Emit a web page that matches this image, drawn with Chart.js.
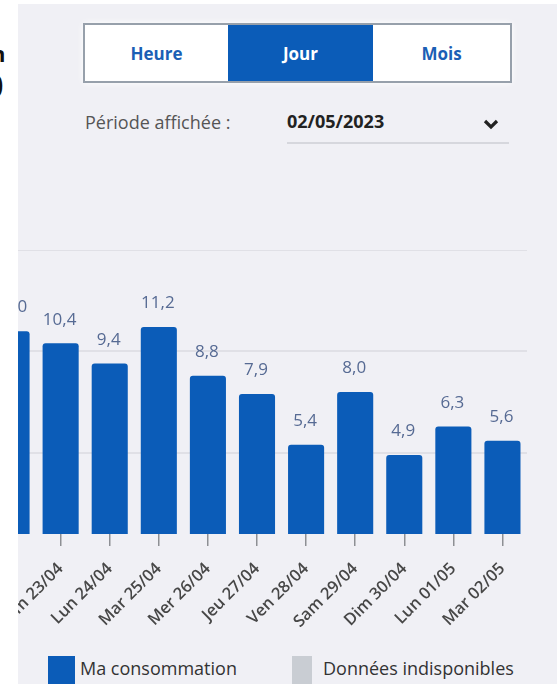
<!DOCTYPE html>
<html>
<head>
<meta charset="utf-8">
<script src="https://cdn.jsdelivr.net/npm/chart.js@4.4.0/dist/chart.umd.min.js"></script>
<style>
  body { margin: 0; width: 557px; height: 684px; overflow: hidden; position: relative; background: #fff; font-family: "Open Sans", sans-serif; }
  #panel { position: absolute; left: 18px; top: 4px; right: 0; bottom: 0; background: #f0f0f5; }
  #strip { position: absolute; left: 0; top: 0; width: 18px; height: 684px; background: #fff; overflow: hidden; z-index: 5; }
  #strip span { position: absolute; color: #111; font-weight: bold; }
  .seg { position: absolute; left: 83px; top: 23px; width: 425px; height: 56px; border: 2px solid #97a0ab; background: #fff; display: flex; box-shadow: 0 0 6px #fff; }
  .seg div { display: flex; align-items: center; justify-content: center; font-weight: bold; font-size: 17px; color: #1b5fb5; }
  .seg .on { background: #0b5cb8; color: #fff; }
  #periode { position: absolute; left: 85px; top: 110px; font-size: 18px; color: #555; }
  #date { position: absolute; left: 287px; top: 109px; font-size: 18px; font-weight: bold; color: #222; }
  #chev { position: absolute; left: 482px; top: 117px; }
  #under { position: absolute; left: 287px; top: 142px; width: 222px; height: 2px; background: #d6d7dd; }
  #wrap { position: absolute; left: -13px; top: 250px; width: 540px; height: 384px; }
  .box { position: absolute; top: 656px; height: 30px; }
  .leg { position: absolute; top: 656px; font-size: 18px; color: #333; }
</style>
</head>
<body>
<div id="panel"></div>
<div id="strip"><span style="left:-9px;top:38px;font-size:22px;">n</span><span style="left:-16px;top:62px;font-size:34px;">0</span></div>

<div class="seg">
  <div style="width:143px">Heure</div>
  <div class="on" style="width:145px">Jour</div>
  <div style="flex:1">Mois</div>
</div>
<div id="periode">Période affichée :</div>
<div id="date">02/05/2023</div>
<svg id="chev" width="18" height="14" viewBox="0 0 18 14"><polyline points="3,4 9,10 15,4" fill="none" stroke="#222" stroke-width="3.2"/></svg>
<div id="under"></div>

<div id="wrap"><canvas id="chart"></canvas></div>

<div class="box" style="left:48px;width:27px;background:#0b5cb8"></div>
<div class="leg" style="left:80px">Ma consommation</div>
<div class="box" style="left:292px;width:20px;background:#c9cdd3"></div>
<div class="leg" style="left:323px">Données indisponibles</div>

<script>
const jours = ['Sam 22/04', 'Dim 23/04', 'Lun 24/04', 'Mar 25/04', 'Mer 26/04', 'Jeu 27/04',
               'Ven 28/04', 'Sam 29/04', 'Dim 30/04', 'Lun 01/05', 'Mar 02/05'];
const conso = [11.0, 10.4, 9.4, 11.2, 8.8, 7.9, 5.4, 8.0, 4.9, 6.3, 5.6];
const yTicks = [5, 10, 15];

const bleu = '#0b5cb8';

// valeurs au-dessus des barres
const valeurs = {
    id: 'valeurs',
    afterDatasetsDraw(chart) {
        const ctx = chart.ctx;
        const meta = chart.getDatasetMeta(0);
        ctx.save();
        ctx.font = '17px "Open Sans"';
        ctx.fillStyle = '#566a93';
        ctx.textAlign = 'center';
        ctx.textBaseline = 'bottom';
        meta.data.forEach((bar, i) => {
            ctx.fillText(conso[i].toFixed(1).replace('.', ','), bar.x - 1, bar.y - 15);
        });
        ctx.restore();
    }
};

new Chart(document.getElementById('chart'), {
    type: 'bar',
    data: {
        labels: jours,
        datasets: [{
            label: 'Ma consommation',
            data: conso,
            backgroundColor: bleu,
            barPercentage: 0.735,
            categoryPercentage: 1,
            borderRadius: 3
        }]
    },
    options: {
        responsive: true,
        maintainAspectRatio: false,
        animation: false,
        layout: { padding: 0 },
        plugins: { legend: { display: false }, tooltip: { enabled: false } },
        scales: {
            x: {
                grid: { drawOnChartArea: false, offset: false, tickLength: 12, color: '#8d8f94', lineWidth: 1.5 },
                border: { display: false },
                ticks: {
                    minRotation: 45, maxRotation: 45, autoSkip: false, padding: 13,
                    color: '#474747', font: { family: 'Open Sans', size: 16.5, weight: '600' }
                },
                afterFit(s) { s.height = 100; s.paddingLeft = 0; s.paddingRight = 0; }
            },
            y: {
                min: 1,
                max: 15,
                afterBuildTicks(s) { s.ticks = yTicks.map(v => ({ value: v })); },
                ticks: { display: false },
                grid: { color: '#e0e0e6', lineWidth: 2, drawTicks: false },
                border: { display: false },
                afterFit(s) { s.width = 0; }
            }
        }
    },
    plugins: [valeurs]
});
</script>
</body>
</html>
